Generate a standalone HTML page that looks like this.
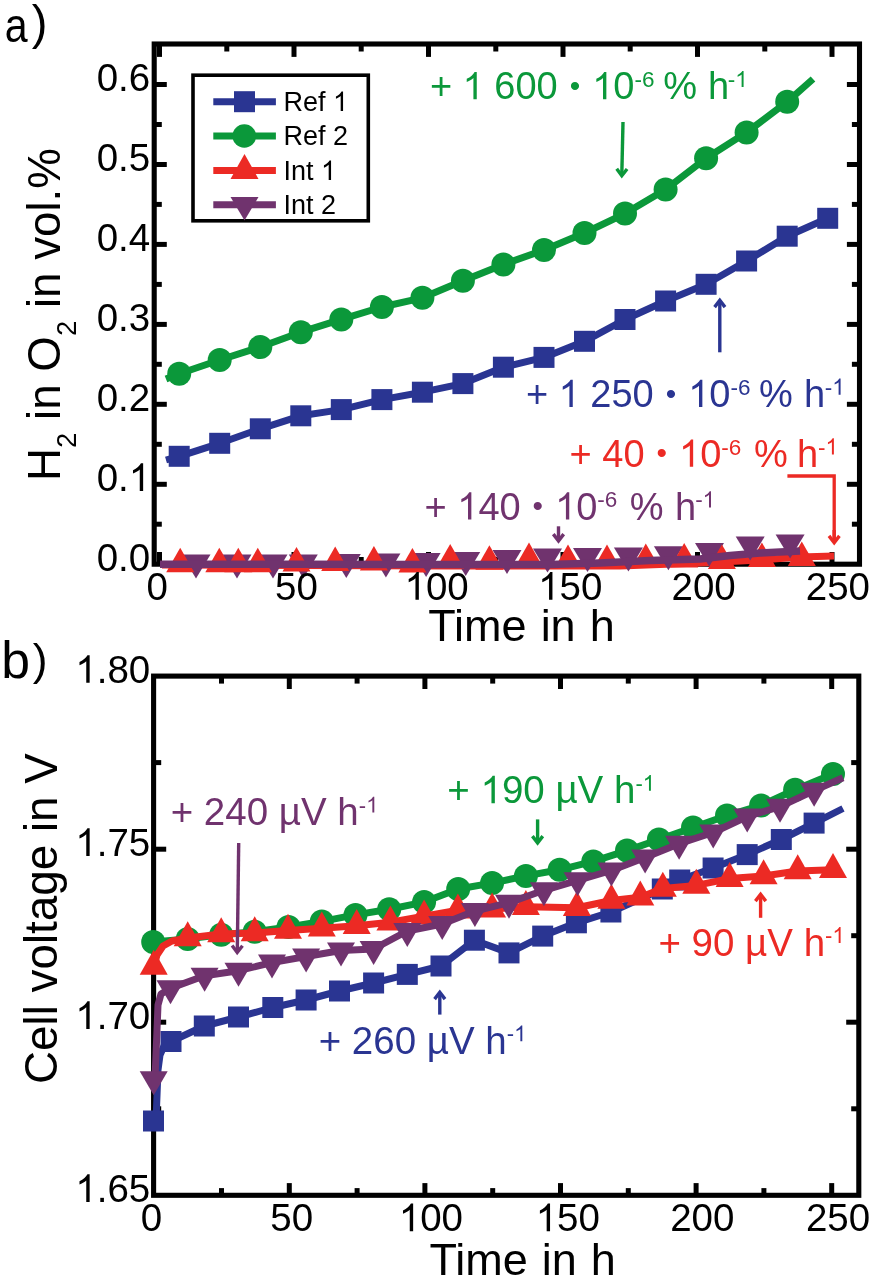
<!DOCTYPE html>
<html><head><meta charset="utf-8"><style>html,body{margin:0;padding:0;background:#fff;width:872px;height:1280px;overflow:hidden}svg{display:block;filter:blur(0.6px)}</style></head><body>
<svg width="872" height="1280" viewBox="0 0 872 1280" font-family='"Liberation Sans", sans-serif'>
<rect width="872" height="1280" fill="#fff"/>
<rect x="154.2" y="44" width="705.3" height="520.2" fill="none" stroke="#000" stroke-width="5.1"/>
<line x1="159.5" y1="564.2" x2="159.5" y2="552" stroke="#000" stroke-width="5.0" stroke-linecap="butt"/>
<line x1="159.5" y1="44" x2="159.5" y2="56.9" stroke="#000" stroke-width="5.0" stroke-linecap="butt"/>
<line x1="226.8" y1="564.2" x2="226.8" y2="557" stroke="#000" stroke-width="5.0" stroke-linecap="butt"/>
<line x1="226.8" y1="44" x2="226.8" y2="51.5" stroke="#000" stroke-width="5.0" stroke-linecap="butt"/>
<line x1="294" y1="564.2" x2="294" y2="552" stroke="#000" stroke-width="5.0" stroke-linecap="butt"/>
<line x1="294" y1="44" x2="294" y2="56.9" stroke="#000" stroke-width="5.0" stroke-linecap="butt"/>
<line x1="361.2" y1="564.2" x2="361.2" y2="557" stroke="#000" stroke-width="5.0" stroke-linecap="butt"/>
<line x1="361.2" y1="44" x2="361.2" y2="51.5" stroke="#000" stroke-width="5.0" stroke-linecap="butt"/>
<line x1="428.5" y1="564.2" x2="428.5" y2="552" stroke="#000" stroke-width="5.0" stroke-linecap="butt"/>
<line x1="428.5" y1="44" x2="428.5" y2="56.9" stroke="#000" stroke-width="5.0" stroke-linecap="butt"/>
<line x1="495.8" y1="564.2" x2="495.8" y2="557" stroke="#000" stroke-width="5.0" stroke-linecap="butt"/>
<line x1="495.8" y1="44" x2="495.8" y2="51.5" stroke="#000" stroke-width="5.0" stroke-linecap="butt"/>
<line x1="563" y1="564.2" x2="563" y2="552" stroke="#000" stroke-width="5.0" stroke-linecap="butt"/>
<line x1="563" y1="44" x2="563" y2="56.9" stroke="#000" stroke-width="5.0" stroke-linecap="butt"/>
<line x1="630.2" y1="564.2" x2="630.2" y2="557" stroke="#000" stroke-width="5.0" stroke-linecap="butt"/>
<line x1="630.2" y1="44" x2="630.2" y2="51.5" stroke="#000" stroke-width="5.0" stroke-linecap="butt"/>
<line x1="697.5" y1="564.2" x2="697.5" y2="552" stroke="#000" stroke-width="5.0" stroke-linecap="butt"/>
<line x1="697.5" y1="44" x2="697.5" y2="56.9" stroke="#000" stroke-width="5.0" stroke-linecap="butt"/>
<line x1="764.8" y1="564.2" x2="764.8" y2="557" stroke="#000" stroke-width="5.0" stroke-linecap="butt"/>
<line x1="764.8" y1="44" x2="764.8" y2="51.5" stroke="#000" stroke-width="5.0" stroke-linecap="butt"/>
<line x1="832" y1="564.2" x2="832" y2="552" stroke="#000" stroke-width="5.0" stroke-linecap="butt"/>
<line x1="832" y1="44" x2="832" y2="56.9" stroke="#000" stroke-width="5.0" stroke-linecap="butt"/>
<line x1="154.2" y1="524.2" x2="161.8" y2="524.2" stroke="#000" stroke-width="5.0" stroke-linecap="butt"/>
<line x1="859.5" y1="524.2" x2="851.9" y2="524.2" stroke="#000" stroke-width="5.0" stroke-linecap="butt"/>
<line x1="154.2" y1="484.3" x2="166.8" y2="484.3" stroke="#000" stroke-width="5.0" stroke-linecap="butt"/>
<line x1="859.5" y1="484.3" x2="846.9" y2="484.3" stroke="#000" stroke-width="5.0" stroke-linecap="butt"/>
<line x1="154.2" y1="444.3" x2="161.8" y2="444.3" stroke="#000" stroke-width="5.0" stroke-linecap="butt"/>
<line x1="859.5" y1="444.3" x2="851.9" y2="444.3" stroke="#000" stroke-width="5.0" stroke-linecap="butt"/>
<line x1="154.2" y1="404.3" x2="166.8" y2="404.3" stroke="#000" stroke-width="5.0" stroke-linecap="butt"/>
<line x1="859.5" y1="404.3" x2="846.9" y2="404.3" stroke="#000" stroke-width="5.0" stroke-linecap="butt"/>
<line x1="154.2" y1="364.3" x2="161.8" y2="364.3" stroke="#000" stroke-width="5.0" stroke-linecap="butt"/>
<line x1="859.5" y1="364.3" x2="851.9" y2="364.3" stroke="#000" stroke-width="5.0" stroke-linecap="butt"/>
<line x1="154.2" y1="324.4" x2="166.8" y2="324.4" stroke="#000" stroke-width="5.0" stroke-linecap="butt"/>
<line x1="859.5" y1="324.4" x2="846.9" y2="324.4" stroke="#000" stroke-width="5.0" stroke-linecap="butt"/>
<line x1="154.2" y1="284.4" x2="161.8" y2="284.4" stroke="#000" stroke-width="5.0" stroke-linecap="butt"/>
<line x1="859.5" y1="284.4" x2="851.9" y2="284.4" stroke="#000" stroke-width="5.0" stroke-linecap="butt"/>
<line x1="154.2" y1="244.4" x2="166.8" y2="244.4" stroke="#000" stroke-width="5.0" stroke-linecap="butt"/>
<line x1="859.5" y1="244.4" x2="846.9" y2="244.4" stroke="#000" stroke-width="5.0" stroke-linecap="butt"/>
<line x1="154.2" y1="204.4" x2="161.8" y2="204.4" stroke="#000" stroke-width="5.0" stroke-linecap="butt"/>
<line x1="859.5" y1="204.4" x2="851.9" y2="204.4" stroke="#000" stroke-width="5.0" stroke-linecap="butt"/>
<line x1="154.2" y1="164.5" x2="166.8" y2="164.5" stroke="#000" stroke-width="5.0" stroke-linecap="butt"/>
<line x1="859.5" y1="164.5" x2="846.9" y2="164.5" stroke="#000" stroke-width="5.0" stroke-linecap="butt"/>
<line x1="154.2" y1="124.5" x2="161.8" y2="124.5" stroke="#000" stroke-width="5.0" stroke-linecap="butt"/>
<line x1="859.5" y1="124.5" x2="851.9" y2="124.5" stroke="#000" stroke-width="5.0" stroke-linecap="butt"/>
<line x1="154.2" y1="84.5" x2="166.8" y2="84.5" stroke="#000" stroke-width="5.0" stroke-linecap="butt"/>
<line x1="859.5" y1="84.5" x2="846.9" y2="84.5" stroke="#000" stroke-width="5.0" stroke-linecap="butt"/>
<polyline points="166,379 179.2,373.7 219.7,360 260.3,347 300.8,332.2 341.3,319.4 381.9,307 422.4,297.8 462.9,280.8 503.4,264.4 544,250 584.5,233 625,213.6 665.6,189.6 706.1,158.3 746.6,132.4 787.2,101.8 813,79" fill="none" stroke="#0b983a" stroke-width="7" stroke-linejoin="round" stroke-linecap="butt"/>
<polyline points="166,460 179.2,456.3 219.7,443.3 260.3,428.8 300.8,415.8 341.3,409.6 381.9,399.6 422.4,392.2 462.9,383.6 503.4,367.2 544,357.4 584.5,341.3 625,319.5 665.6,301 706.1,284.3 746.6,261 787.2,236.2 827.7,218.3 834,216" fill="none" stroke="#2a3592" stroke-width="7" stroke-linejoin="round" stroke-linecap="butt"/>
<circle cx="179.2" cy="373.7" r="12" fill="#0b983a"/>
<circle cx="219.7" cy="360" r="12" fill="#0b983a"/>
<circle cx="260.3" cy="347" r="12" fill="#0b983a"/>
<circle cx="300.8" cy="332.2" r="12" fill="#0b983a"/>
<circle cx="341.3" cy="319.4" r="12" fill="#0b983a"/>
<circle cx="381.9" cy="307" r="12" fill="#0b983a"/>
<circle cx="422.4" cy="297.8" r="12" fill="#0b983a"/>
<circle cx="462.9" cy="280.8" r="12" fill="#0b983a"/>
<circle cx="503.4" cy="264.4" r="12" fill="#0b983a"/>
<circle cx="544" cy="250" r="12" fill="#0b983a"/>
<circle cx="584.5" cy="233" r="12" fill="#0b983a"/>
<circle cx="625" cy="213.6" r="12" fill="#0b983a"/>
<circle cx="665.6" cy="189.6" r="12" fill="#0b983a"/>
<circle cx="706.1" cy="158.3" r="12" fill="#0b983a"/>
<circle cx="746.6" cy="132.4" r="12" fill="#0b983a"/>
<circle cx="787.2" cy="101.8" r="12" fill="#0b983a"/>
<rect x="168.7" y="445.8" width="21" height="21" fill="#2a3592"/>
<rect x="209.2" y="432.8" width="21" height="21" fill="#2a3592"/>
<rect x="249.8" y="418.3" width="21" height="21" fill="#2a3592"/>
<rect x="290.3" y="405.3" width="21" height="21" fill="#2a3592"/>
<rect x="330.8" y="399.1" width="21" height="21" fill="#2a3592"/>
<rect x="371.4" y="389.1" width="21" height="21" fill="#2a3592"/>
<rect x="411.9" y="381.7" width="21" height="21" fill="#2a3592"/>
<rect x="452.4" y="373.1" width="21" height="21" fill="#2a3592"/>
<rect x="492.9" y="356.7" width="21" height="21" fill="#2a3592"/>
<rect x="533.5" y="346.9" width="21" height="21" fill="#2a3592"/>
<rect x="574" y="330.8" width="21" height="21" fill="#2a3592"/>
<rect x="614.5" y="309" width="21" height="21" fill="#2a3592"/>
<rect x="655.1" y="290.5" width="21" height="21" fill="#2a3592"/>
<rect x="695.6" y="273.8" width="21" height="21" fill="#2a3592"/>
<rect x="736.1" y="250.5" width="21" height="21" fill="#2a3592"/>
<rect x="776.7" y="225.7" width="21" height="21" fill="#2a3592"/>
<rect x="817.2" y="207.8" width="21" height="21" fill="#2a3592"/>
<polyline points="162,565 300,565.5 450,566 550,566 620,566 700,563 760,560 800,557 834,556" fill="none" stroke="#ec2a24" stroke-width="7" stroke-linejoin="round" stroke-linecap="butt"/>
<path d="M181.5 554.6L210.5 554.6L196 578.6Z" fill="#70336e"/>
<path d="M222.5 554.6L251.5 554.6L237 578.6Z" fill="#70336e"/>
<path d="M258.5 554.6L287.5 554.6L273 578.6Z" fill="#70336e"/>
<path d="M288.8 554.6L317.8 554.6L303.3 578.6Z" fill="#70336e"/>
<path d="M331.8 554L360.8 554L346.3 578Z" fill="#70336e"/>
<path d="M371.4 553.5L400.4 553.5L385.9 577.5Z" fill="#70336e"/>
<path d="M411.6 553L440.6 553L426.1 577Z" fill="#70336e"/>
<path d="M451.2 552L480.2 552L465.7 576Z" fill="#70336e"/>
<path d="M492.5 550L521.5 550L507 574Z" fill="#70336e"/>
<path d="M533 548.5L562 548.5L547.5 572.5Z" fill="#70336e"/>
<path d="M573 548L602 548L587.5 572Z" fill="#70336e"/>
<path d="M613.9 547.5L642.9 547.5L628.4 571.5Z" fill="#70336e"/>
<path d="M653.9 546.2L682.9 546.2L668.4 570.2Z" fill="#70336e"/>
<path d="M695 543L724 543L709.5 567Z" fill="#70336e"/>
<path d="M735.7 536.6L764.7 536.6L750.2 560.6Z" fill="#70336e"/>
<path d="M775.6 534.6L804.6 534.6L790.1 558.6Z" fill="#70336e"/>
<path d="M180.2 547.7L194.2 572.2L166.2 572.2Z" fill="#ec2a24"/>
<path d="M219.3 547.7L233.3 572.2L205.3 572.2Z" fill="#ec2a24"/>
<path d="M238.3 547.7L252.3 572.2L224.3 572.2Z" fill="#ec2a24"/>
<path d="M257.8 547.7L271.8 572.2L243.8 572.2Z" fill="#ec2a24"/>
<path d="M296.5 547.1L310.5 571.6L282.5 571.6Z" fill="#ec2a24"/>
<path d="M335.2 546.6L349.2 571.1L321.2 571.1Z" fill="#ec2a24"/>
<path d="M373.9 546.1L387.9 570.6L359.9 570.6Z" fill="#ec2a24"/>
<path d="M412.4 548.1L426.4 572.6L398.4 572.6Z" fill="#ec2a24"/>
<path d="M450.2 543.9L464.2 568.4L436.2 568.4Z" fill="#ec2a24"/>
<path d="M489.4 545.2L503.4 569.7L475.4 569.7Z" fill="#ec2a24"/>
<path d="M529 542.5L543 567L515 567Z" fill="#ec2a24"/>
<path d="M568 544.4L582 568.9L554 568.9Z" fill="#ec2a24"/>
<path d="M607 544.5L621 569L593 569Z" fill="#ec2a24"/>
<path d="M645.8 543.4L659.8 567.9L631.8 567.9Z" fill="#ec2a24"/>
<path d="M684.2 542.9L698.2 567.4L670.2 567.4Z" fill="#ec2a24"/>
<path d="M721.9 544.5L735.9 569L707.9 569Z" fill="#ec2a24"/>
<path d="M761.9 542.5L775.9 567L747.9 567Z" fill="#ec2a24"/>
<path d="M801.8 541.5L815.8 566L787.8 566Z" fill="#ec2a24"/>
<polyline points="160,564.3 300,564.3 420,564.5 550,564.6 600,563 650,560.5 700,559 730,555.5 760,553 800,551" fill="none" stroke="#70336e" stroke-width="7.5" stroke-linejoin="round" stroke-linecap="butt"/>
<rect x="193" y="75.2" width="175.3" height="145.6" fill="#fff" stroke="#000" stroke-width="3.6"/>
<line x1="213.3" y1="101.7" x2="275.9" y2="101.7" stroke="#2a3592" stroke-width="7" stroke-linecap="butt"/>
<rect x="234" y="91.2" width="21" height="21" fill="#2a3592"/>
<text fill="#000" ><tspan x="283.5" y="111" font-size="27">Ref  </tspan></text>
<path transform="translate(333,111) scale(0.01318,-0.01318)" d="M763 0H583V1147Q518 1085 412.5 1023Q307 961 223 930V1104Q374 1175 487 1276Q600 1377 647 1472H763Z" fill="#000"/>
<line x1="213.3" y1="136" x2="275.9" y2="136" stroke="#0b983a" stroke-width="7" stroke-linecap="butt"/>
<circle cx="244.3" cy="136" r="11.8" fill="#0b983a"/>
<text fill="#000" ><tspan x="283.5" y="145.3" font-size="27">Ref 2</tspan></text>
<line x1="213.3" y1="170.6" x2="275.9" y2="170.6" stroke="#ec2a24" stroke-width="7" stroke-linecap="butt"/>
<path d="M244.5 153.9L258.5 178.9L230.5 178.9Z" fill="#ec2a24"/>
<text fill="#000" ><tspan x="283.5" y="179.9" font-size="27">Int  </tspan></text>
<path transform="translate(321,179.9) scale(0.01318,-0.01318)" d="M763 0H583V1147Q518 1085 412.5 1023Q307 961 223 930V1104Q374 1175 487 1276Q600 1377 647 1472H763Z" fill="#000"/>
<line x1="213.3" y1="204.8" x2="275.9" y2="204.8" stroke="#70336e" stroke-width="7" stroke-linecap="butt"/>
<path d="M230.5 197L258.5 197L244.5 220.5Z" fill="#70336e"/>
<text fill="#000" ><tspan x="283.5" y="214.1" font-size="27">Int 2</tspan></text>
<text fill="#000" ><tspan x="96.7" y="570.9" font-size="38.5">0.0</tspan></text>
<text fill="#000" ><tspan x="96.7" y="491" font-size="38.5">0. </tspan></text>
<path transform="translate(128.8,491) scale(0.01880,-0.01880)" d="M763 0H583V1147Q518 1085 412.5 1023Q307 961 223 930V1104Q374 1175 487 1276Q600 1377 647 1472H763Z" fill="#000"/>
<text fill="#000" ><tspan x="96.7" y="411" font-size="38.5">0.2</tspan></text>
<text fill="#000" ><tspan x="96.7" y="331.1" font-size="38.5">0.3</tspan></text>
<text fill="#000" ><tspan x="96.7" y="251.1" font-size="38.5">0.4</tspan></text>
<text fill="#000" ><tspan x="96.7" y="171.2" font-size="38.5">0.5</tspan></text>
<text fill="#000" ><tspan x="96.7" y="91.2" font-size="38.5">0.6</tspan></text>
<text fill="#000" ><tspan x="146.5" y="599.7" font-size="38.5">0</tspan></text>
<text fill="#000" ><tspan x="275.1" y="599.7" font-size="38.5">50</tspan></text>
<text fill="#000" ><tspan x="404.5" y="599.7" font-size="38.5"> 00</tspan></text>
<path transform="translate(404.5,599.7) scale(0.01880,-0.01880)" d="M763 0H583V1147Q518 1085 412.5 1023Q307 961 223 930V1104Q374 1175 487 1276Q600 1377 647 1472H763Z" fill="#000"/>
<text fill="#000" ><tspan x="538.1" y="599.7" font-size="38.5"> 50</tspan></text>
<path transform="translate(538.1,599.7) scale(0.01880,-0.01880)" d="M763 0H583V1147Q518 1085 412.5 1023Q307 961 223 930V1104Q374 1175 487 1276Q600 1377 647 1472H763Z" fill="#000"/>
<text fill="#000" ><tspan x="671.5" y="599.7" font-size="38.5">200</tspan></text>
<text fill="#000" ><tspan x="805.8" y="599.7" font-size="38.5">250</tspan></text>
<text x="521.5" y="640.5" font-size="45" fill="#000" text-anchor="middle" word-spacing="1.5">Time in h</text>
<text transform="translate(60,314.5) rotate(-90)" font-size="45.7" text-anchor="middle">H<tspan font-size="27.5" dy="15.7">2</tspan><tspan dy="-15.7"> in O</tspan><tspan font-size="27.5" dy="15.7">2</tspan><tspan dy="-15.7"> in vol.%</tspan></text>
<text transform="translate(4.67,42.1) scale(0.84,1)" font-size="49">a</text>
<text x="31.7" y="38.9" font-size="47.2" fill="#000" text-anchor="start" >)</text>
<text fill="#0b983a" ><tspan x="429.9" y="99.3" font-size="38">+   600 </tspan><tspan font-size="30" dx="1.4" dy="-3.4">•</tspan><tspan font-size="38" dx="1.4" dy="3.4">  0</tspan><tspan font-size="22.5" dx="0" dy="-12.2">-6 </tspan><tspan font-size="38" dx="2.5" dy="12.2">% </tspan><tspan font-size="38" dx="0.5" dy="0">h</tspan><tspan font-size="22.5" dx="-1.5" dy="-12.2">- </tspan></text>
<path transform="translate(462.6,99.3) scale(0.01855,-0.01855)" d="M763 0H583V1147Q518 1085 412.5 1023Q307 961 223 930V1104Q374 1175 487 1276Q600 1377 647 1472H763Z" fill="#0b983a"/>
<path transform="translate(592.2,99.3) scale(0.01855,-0.01855)" d="M763 0H583V1147Q518 1085 412.5 1023Q307 961 223 930V1104Q374 1175 487 1276Q600 1377 647 1472H763Z" fill="#0b983a"/>
<path transform="translate(735.2,87.1) scale(0.01099,-0.01099)" d="M763 0H583V1147Q518 1085 412.5 1023Q307 961 223 930V1104Q374 1175 487 1276Q600 1377 647 1472H763Z" fill="#0b983a"/>
<line x1="623" y1="122" x2="621.8" y2="174.7" stroke="#0b983a" stroke-width="3.4" stroke-linecap="butt"/>
<path d="M627.1 169L621.8 175.7L616.7 168.8" fill="none" stroke="#0b983a" stroke-width="3.4" stroke-linejoin="miter" stroke-miterlimit="10"/>
<text fill="#2a3592" ><tspan x="525.9" y="407" font-size="38">+   250 </tspan><tspan font-size="30" dx="1.4" dy="-3.4">•</tspan><tspan font-size="38" dx="1.4" dy="3.4">  0</tspan><tspan font-size="22.5" dx="0" dy="-12.2">-6 </tspan><tspan font-size="38" dx="2.2" dy="12.2">% </tspan><tspan font-size="38" dx="0.8" dy="0">h</tspan><tspan font-size="22.5" dx="-0.5" dy="-12.2">- </tspan></text>
<path transform="translate(558.6,407) scale(0.01855,-0.01855)" d="M763 0H583V1147Q518 1085 412.5 1023Q307 961 223 930V1104Q374 1175 487 1276Q600 1377 647 1472H763Z" fill="#2a3592"/>
<path transform="translate(688.2,407) scale(0.01855,-0.01855)" d="M763 0H583V1147Q518 1085 412.5 1023Q307 961 223 930V1104Q374 1175 487 1276Q600 1377 647 1472H763Z" fill="#2a3592"/>
<path transform="translate(832.2,394.8) scale(0.01099,-0.01099)" d="M763 0H583V1147Q518 1085 412.5 1023Q307 961 223 930V1104Q374 1175 487 1276Q600 1377 647 1472H763Z" fill="#2a3592"/>
<line x1="719.8" y1="352.3" x2="719.8" y2="301.3" stroke="#2a3592" stroke-width="3.4" stroke-linecap="butt"/>
<path d="M714.6 307.1L719.8 300.3L725 307.1" fill="none" stroke="#2a3592" stroke-width="3.4" stroke-linejoin="miter" stroke-miterlimit="10"/>
<text fill="#ec2a24" ><tspan x="569.6" y="466.7" font-size="38">+ 40 </tspan><tspan font-size="30" dx="1.4" dy="-3.4">•</tspan><tspan font-size="38" dx="1.4" dy="3.4">  0</tspan><tspan font-size="22.5" dx="0" dy="-12.2">-6 </tspan><tspan font-size="38" dx="6.5" dy="12.2">% </tspan><tspan font-size="38" dx="-1.5" dy="0">h</tspan><tspan font-size="22.5" dx="0" dy="-12.2">- </tspan></text>
<path transform="translate(679,466.7) scale(0.01855,-0.01855)" d="M763 0H583V1147Q518 1085 412.5 1023Q307 961 223 930V1104Q374 1175 487 1276Q600 1377 647 1472H763Z" fill="#ec2a24"/>
<path transform="translate(825.5,454.5) scale(0.01099,-0.01099)" d="M763 0H583V1147Q518 1085 412.5 1023Q307 961 223 930V1104Q374 1175 487 1276Q600 1377 647 1472H763Z" fill="#ec2a24"/>
<polyline points="787.4,476 834.2,476 834.2,540" fill="none" stroke="#ec2a24" stroke-width="3.3"/>
<line x1="834.2" y1="530" x2="834.2" y2="541.7" stroke="#ec2a24" stroke-width="3.4" stroke-linecap="butt"/>
<path d="M839.4 535.9L834.2 542.7L829 535.9" fill="none" stroke="#ec2a24" stroke-width="3.4" stroke-linejoin="miter" stroke-miterlimit="10"/>
<text fill="#70336e" ><tspan x="424.5" y="519.6" font-size="38">+  40 </tspan><tspan font-size="30" dx="1.4" dy="-3.4">•</tspan><tspan font-size="38" dx="1.4" dy="3.4">  0</tspan><tspan font-size="22.5" dx="0" dy="-12.2">-6 </tspan><tspan font-size="38" dx="6" dy="12.2">% </tspan><tspan font-size="38" dx="1" dy="0">h</tspan><tspan font-size="22.5" dx="-1" dy="-12.2">- </tspan></text>
<path transform="translate(457.2,519.6) scale(0.01855,-0.01855)" d="M763 0H583V1147Q518 1085 412.5 1023Q307 961 223 930V1104Q374 1175 487 1276Q600 1377 647 1472H763Z" fill="#70336e"/>
<path transform="translate(555.1,519.6) scale(0.01855,-0.01855)" d="M763 0H583V1147Q518 1085 412.5 1023Q307 961 223 930V1104Q374 1175 487 1276Q600 1377 647 1472H763Z" fill="#70336e"/>
<path transform="translate(702.6,507.4) scale(0.01099,-0.01099)" d="M763 0H583V1147Q518 1085 412.5 1023Q307 961 223 930V1104Q374 1175 487 1276Q600 1377 647 1472H763Z" fill="#70336e"/>
<line x1="558.5" y1="526.3" x2="558.5" y2="539.9" stroke="#70336e" stroke-width="3.4" stroke-linecap="butt"/>
<path d="M563.7 534.1L558.5 540.9L553.3 534.1" fill="none" stroke="#70336e" stroke-width="3.4" stroke-linejoin="miter" stroke-miterlimit="10"/>
<rect x="153.6" y="676.1" width="705.2" height="519.2" fill="none" stroke="#000" stroke-width="5.1"/>
<line x1="221.5" y1="1195.3" x2="221.5" y2="1188.1" stroke="#000" stroke-width="5.0" stroke-linecap="butt"/>
<line x1="221.5" y1="676.1" x2="221.5" y2="683.6" stroke="#000" stroke-width="5.0" stroke-linecap="butt"/>
<line x1="289.3" y1="1195.3" x2="289.3" y2="1183.1" stroke="#000" stroke-width="5.0" stroke-linecap="butt"/>
<line x1="289.3" y1="676.1" x2="289.3" y2="689" stroke="#000" stroke-width="5.0" stroke-linecap="butt"/>
<line x1="357.1" y1="1195.3" x2="357.1" y2="1188.1" stroke="#000" stroke-width="5.0" stroke-linecap="butt"/>
<line x1="357.1" y1="676.1" x2="357.1" y2="683.6" stroke="#000" stroke-width="5.0" stroke-linecap="butt"/>
<line x1="424.9" y1="1195.3" x2="424.9" y2="1183.1" stroke="#000" stroke-width="5.0" stroke-linecap="butt"/>
<line x1="424.9" y1="676.1" x2="424.9" y2="689" stroke="#000" stroke-width="5.0" stroke-linecap="butt"/>
<line x1="492.7" y1="1195.3" x2="492.7" y2="1188.1" stroke="#000" stroke-width="5.0" stroke-linecap="butt"/>
<line x1="492.7" y1="676.1" x2="492.7" y2="683.6" stroke="#000" stroke-width="5.0" stroke-linecap="butt"/>
<line x1="560.5" y1="1195.3" x2="560.5" y2="1183.1" stroke="#000" stroke-width="5.0" stroke-linecap="butt"/>
<line x1="560.5" y1="676.1" x2="560.5" y2="689" stroke="#000" stroke-width="5.0" stroke-linecap="butt"/>
<line x1="628.3" y1="1195.3" x2="628.3" y2="1188.1" stroke="#000" stroke-width="5.0" stroke-linecap="butt"/>
<line x1="628.3" y1="676.1" x2="628.3" y2="683.6" stroke="#000" stroke-width="5.0" stroke-linecap="butt"/>
<line x1="696.1" y1="1195.3" x2="696.1" y2="1183.1" stroke="#000" stroke-width="5.0" stroke-linecap="butt"/>
<line x1="696.1" y1="676.1" x2="696.1" y2="689" stroke="#000" stroke-width="5.0" stroke-linecap="butt"/>
<line x1="763.9" y1="1195.3" x2="763.9" y2="1188.1" stroke="#000" stroke-width="5.0" stroke-linecap="butt"/>
<line x1="763.9" y1="676.1" x2="763.9" y2="683.6" stroke="#000" stroke-width="5.0" stroke-linecap="butt"/>
<line x1="831.7" y1="1195.3" x2="831.7" y2="1183.1" stroke="#000" stroke-width="5.0" stroke-linecap="butt"/>
<line x1="831.7" y1="676.1" x2="831.7" y2="689" stroke="#000" stroke-width="5.0" stroke-linecap="butt"/>
<line x1="153.6" y1="1108.8" x2="161.2" y2="1108.8" stroke="#000" stroke-width="5.0" stroke-linecap="butt"/>
<line x1="858.8" y1="1108.8" x2="851.2" y2="1108.8" stroke="#000" stroke-width="5.0" stroke-linecap="butt"/>
<line x1="153.6" y1="1022.2" x2="166.2" y2="1022.2" stroke="#000" stroke-width="5.0" stroke-linecap="butt"/>
<line x1="858.8" y1="1022.2" x2="846.2" y2="1022.2" stroke="#000" stroke-width="5.0" stroke-linecap="butt"/>
<line x1="153.6" y1="935.7" x2="161.2" y2="935.7" stroke="#000" stroke-width="5.0" stroke-linecap="butt"/>
<line x1="858.8" y1="935.7" x2="851.2" y2="935.7" stroke="#000" stroke-width="5.0" stroke-linecap="butt"/>
<line x1="153.6" y1="849.2" x2="166.2" y2="849.2" stroke="#000" stroke-width="5.0" stroke-linecap="butt"/>
<line x1="858.8" y1="849.2" x2="846.2" y2="849.2" stroke="#000" stroke-width="5.0" stroke-linecap="butt"/>
<line x1="153.6" y1="762.6" x2="161.2" y2="762.6" stroke="#000" stroke-width="5.0" stroke-linecap="butt"/>
<line x1="858.8" y1="762.6" x2="851.2" y2="762.6" stroke="#000" stroke-width="5.0" stroke-linecap="butt"/>
<polyline points="156,1121 158,1070 160,1055 164,1046 171,1041.5 204.3,1026 238.5,1017 272.8,1007.5 306.1,1000 339.5,991 373.6,983 407.3,974.4 441,966 474.4,940.2 509,952.9 542.7,936.1 576.4,922.8 610.9,912 662.3,889 679.7,880 713.1,868 747.2,854.6 781.3,839.5 814.1,823.1 843,808.5" fill="none" stroke="#2a3592" stroke-width="7" stroke-linejoin="round" stroke-linecap="butt"/>
<rect x="143" y="1110.5" width="21" height="21" fill="#2a3592"/>
<rect x="160.5" y="1031" width="21" height="21" fill="#2a3592"/>
<rect x="193.8" y="1015.5" width="21" height="21" fill="#2a3592"/>
<rect x="228" y="1006.5" width="21" height="21" fill="#2a3592"/>
<rect x="262.3" y="997" width="21" height="21" fill="#2a3592"/>
<rect x="295.6" y="989.5" width="21" height="21" fill="#2a3592"/>
<rect x="329" y="980.5" width="21" height="21" fill="#2a3592"/>
<rect x="363.1" y="972.5" width="21" height="21" fill="#2a3592"/>
<rect x="396.8" y="963.9" width="21" height="21" fill="#2a3592"/>
<rect x="430.5" y="955.5" width="21" height="21" fill="#2a3592"/>
<rect x="463.9" y="929.7" width="21" height="21" fill="#2a3592"/>
<rect x="498.5" y="942.4" width="21" height="21" fill="#2a3592"/>
<rect x="532.2" y="925.6" width="21" height="21" fill="#2a3592"/>
<rect x="565.9" y="912.3" width="21" height="21" fill="#2a3592"/>
<rect x="600.4" y="901.5" width="21" height="21" fill="#2a3592"/>
<rect x="651.8" y="878.5" width="21" height="21" fill="#2a3592"/>
<rect x="669.2" y="869.5" width="21" height="21" fill="#2a3592"/>
<rect x="702.6" y="857.5" width="21" height="21" fill="#2a3592"/>
<rect x="736.7" y="844.1" width="21" height="21" fill="#2a3592"/>
<rect x="770.8" y="829" width="21" height="21" fill="#2a3592"/>
<rect x="803.6" y="812.6" width="21" height="21" fill="#2a3592"/>
<polyline points="153.2,941.9 187.7,938.9 221.2,934.8 254.7,931.8 288.5,926.9 321.8,921.4 355.5,914.9 389.2,909.3 424.1,902.1 458.2,889 492.1,883.1 525.9,875.9 559.6,869.8 593.3,861.4 627,850.6 658.9,839.5 693,827.6 727,815.5 761.1,805.4 795.1,789.8 833,773.9 840,770.5" fill="none" stroke="#0b983a" stroke-width="7" stroke-linejoin="round" stroke-linecap="butt"/>
<circle cx="153.2" cy="941.9" r="12" fill="#0b983a"/>
<circle cx="187.7" cy="938.9" r="12" fill="#0b983a"/>
<circle cx="221.2" cy="934.8" r="12" fill="#0b983a"/>
<circle cx="254.7" cy="931.8" r="12" fill="#0b983a"/>
<circle cx="288.5" cy="926.9" r="12" fill="#0b983a"/>
<circle cx="321.8" cy="921.4" r="12" fill="#0b983a"/>
<circle cx="355.5" cy="914.9" r="12" fill="#0b983a"/>
<circle cx="389.2" cy="909.3" r="12" fill="#0b983a"/>
<circle cx="424.1" cy="902.1" r="12" fill="#0b983a"/>
<circle cx="458.2" cy="889" r="12" fill="#0b983a"/>
<circle cx="492.1" cy="883.1" r="12" fill="#0b983a"/>
<circle cx="525.9" cy="875.9" r="12" fill="#0b983a"/>
<circle cx="559.6" cy="869.8" r="12" fill="#0b983a"/>
<circle cx="593.3" cy="861.4" r="12" fill="#0b983a"/>
<circle cx="627" cy="850.6" r="12" fill="#0b983a"/>
<circle cx="658.9" cy="839.5" r="12" fill="#0b983a"/>
<circle cx="693" cy="827.6" r="12" fill="#0b983a"/>
<circle cx="727" cy="815.5" r="12" fill="#0b983a"/>
<circle cx="761.1" cy="805.4" r="12" fill="#0b983a"/>
<circle cx="795.1" cy="789.8" r="12" fill="#0b983a"/>
<circle cx="833" cy="773.9" r="12" fill="#0b983a"/>
<polyline points="153.7,968 157,955 163,946 172,941 187.7,938 221.2,934 254.7,932.9 288,930.5 321.8,928.2 356.7,925.8 390.4,922.2 424.1,916.1 457.9,910.2 492.1,909.1 525.9,906.7 576.9,907.7 611.4,900.5 640.3,897.3 662.8,888.4 696.3,885.4 729.6,878.6 763.6,876 797.7,871 833,869.7 840,869" fill="none" stroke="#ec2a24" stroke-width="7" stroke-linejoin="round" stroke-linecap="butt"/>
<path d="M153.7 949.7L167.7 974.7L139.7 974.7Z" fill="#ec2a24"/>
<path d="M187.7 921.3L201.7 946.3L173.7 946.3Z" fill="#ec2a24"/>
<path d="M221.2 917.3L235.2 942.3L207.2 942.3Z" fill="#ec2a24"/>
<path d="M254.7 916.2L268.7 941.2L240.7 941.2Z" fill="#ec2a24"/>
<path d="M288 913.8L302 938.8L274 938.8Z" fill="#ec2a24"/>
<path d="M321.8 911.5L335.8 936.5L307.8 936.5Z" fill="#ec2a24"/>
<path d="M356.7 909.1L370.7 934.1L342.7 934.1Z" fill="#ec2a24"/>
<path d="M390.4 905.5L404.4 930.5L376.4 930.5Z" fill="#ec2a24"/>
<path d="M424.1 899.4L438.1 924.4L410.1 924.4Z" fill="#ec2a24"/>
<path d="M457.9 893.5L471.9 918.5L443.9 918.5Z" fill="#ec2a24"/>
<path d="M492.1 892.4L506.1 917.4L478.1 917.4Z" fill="#ec2a24"/>
<path d="M525.9 890L539.9 915L511.9 915Z" fill="#ec2a24"/>
<path d="M576.9 891L590.9 916L562.9 916Z" fill="#ec2a24"/>
<path d="M611.4 883.8L625.4 908.8L597.4 908.8Z" fill="#ec2a24"/>
<path d="M640.3 880.6L654.3 905.6L626.3 905.6Z" fill="#ec2a24"/>
<path d="M662.8 871.7L676.8 896.7L648.8 896.7Z" fill="#ec2a24"/>
<path d="M696.3 868.7L710.3 893.7L682.3 893.7Z" fill="#ec2a24"/>
<path d="M729.6 861.9L743.6 886.9L715.6 886.9Z" fill="#ec2a24"/>
<path d="M763.6 859.3L777.6 884.3L749.6 884.3Z" fill="#ec2a24"/>
<path d="M797.7 854.3L811.7 879.3L783.7 879.3Z" fill="#ec2a24"/>
<path d="M833 853L847 878L819 878Z" fill="#ec2a24"/>
<polyline points="155,1079 157,1030 158,1005 161,994 170.5,988.3 204.6,975.8 238.5,970.7 272,962.6 306.1,956.5 341,950.5 373.6,949 407.3,931 442.2,924 474.9,911 509,902.7 543.9,890.3 577.6,880.3 611.4,870.5 645.1,857.4 679.1,843.7 713.2,832.5 747.2,816.5 780,806.7 814.1,790.7 843,777.7" fill="none" stroke="#70336e" stroke-width="7" stroke-linejoin="round" stroke-linecap="butt"/>
<path d="M139.7 1071.3L167.7 1071.3L153.7 1095.3Z" fill="#70336e"/>
<path d="M156.5 980.3L184.5 980.3L170.5 1004.3Z" fill="#70336e"/>
<path d="M190.6 967.8L218.6 967.8L204.6 991.8Z" fill="#70336e"/>
<path d="M224.5 962.7L252.5 962.7L238.5 986.7Z" fill="#70336e"/>
<path d="M258 954.6L286 954.6L272 978.6Z" fill="#70336e"/>
<path d="M292.1 948.5L320.1 948.5L306.1 972.5Z" fill="#70336e"/>
<path d="M327 942.5L355 942.5L341 966.5Z" fill="#70336e"/>
<path d="M359.6 941L387.6 941L373.6 965Z" fill="#70336e"/>
<path d="M393.3 923L421.3 923L407.3 947Z" fill="#70336e"/>
<path d="M428.2 916L456.2 916L442.2 940Z" fill="#70336e"/>
<path d="M460.9 903L488.9 903L474.9 927Z" fill="#70336e"/>
<path d="M495 894.7L523 894.7L509 918.7Z" fill="#70336e"/>
<path d="M529.9 882.3L557.9 882.3L543.9 906.3Z" fill="#70336e"/>
<path d="M563.6 872.3L591.6 872.3L577.6 896.3Z" fill="#70336e"/>
<path d="M597.4 862.5L625.4 862.5L611.4 886.5Z" fill="#70336e"/>
<path d="M631.1 849.4L659.1 849.4L645.1 873.4Z" fill="#70336e"/>
<path d="M665.1 835.7L693.1 835.7L679.1 859.7Z" fill="#70336e"/>
<path d="M699.2 824.5L727.2 824.5L713.2 848.5Z" fill="#70336e"/>
<path d="M733.2 808.5L761.2 808.5L747.2 832.5Z" fill="#70336e"/>
<path d="M766 798.7L794 798.7L780 822.7Z" fill="#70336e"/>
<path d="M800.1 782.7L828.1 782.7L814.1 806.7Z" fill="#70336e"/>
<text fill="#000" ><tspan x="75.3" y="1202" font-size="38.5"> .65</tspan></text>
<path transform="translate(75.3,1202) scale(0.01880,-0.01880)" d="M763 0H583V1147Q518 1085 412.5 1023Q307 961 223 930V1104Q374 1175 487 1276Q600 1377 647 1472H763Z" fill="#000"/>
<text fill="#000" ><tspan x="75.3" y="1028.9" font-size="38.5"> .70</tspan></text>
<path transform="translate(75.3,1028.9) scale(0.01880,-0.01880)" d="M763 0H583V1147Q518 1085 412.5 1023Q307 961 223 930V1104Q374 1175 487 1276Q600 1377 647 1472H763Z" fill="#000"/>
<text fill="#000" ><tspan x="75.3" y="855.9" font-size="38.5"> .75</tspan></text>
<path transform="translate(75.3,855.9) scale(0.01880,-0.01880)" d="M763 0H583V1147Q518 1085 412.5 1023Q307 961 223 930V1104Q374 1175 487 1276Q600 1377 647 1472H763Z" fill="#000"/>
<text fill="#000" ><tspan x="75.3" y="682.8" font-size="38.5"> .80</tspan></text>
<path transform="translate(75.3,682.8) scale(0.01880,-0.01880)" d="M763 0H583V1147Q518 1085 412.5 1023Q307 961 223 930V1104Q374 1175 487 1276Q600 1377 647 1472H763Z" fill="#000"/>
<text fill="#000" ><tspan x="140.7" y="1231.2" font-size="38.5">0</tspan></text>
<text fill="#000" ><tspan x="270.3" y="1231.2" font-size="38.5">50</tspan></text>
<text fill="#000" ><tspan x="398.8" y="1231.2" font-size="38.5"> 00</tspan></text>
<path transform="translate(398.8,1231.2) scale(0.01880,-0.01880)" d="M763 0H583V1147Q518 1085 412.5 1023Q307 961 223 930V1104Q374 1175 487 1276Q600 1377 647 1472H763Z" fill="#000"/>
<text fill="#000" ><tspan x="535.7" y="1231.2" font-size="38.5"> 50</tspan></text>
<path transform="translate(535.7,1231.2) scale(0.01880,-0.01880)" d="M763 0H583V1147Q518 1085 412.5 1023Q307 961 223 930V1104Q374 1175 487 1276Q600 1377 647 1472H763Z" fill="#000"/>
<text fill="#000" ><tspan x="670.2" y="1231.2" font-size="38.5">200</tspan></text>
<text fill="#000" ><tspan x="805.9" y="1231.2" font-size="38.5">250</tspan></text>
<text x="522.7" y="1275.2" font-size="45" fill="#000" text-anchor="middle" word-spacing="1.5">Time in h</text>
<text transform="translate(57.2,918.6) rotate(-90)" font-size="45.8" text-anchor="middle">Cell voltage in V</text>
<text x="1.3" y="677.6" font-size="51.7" fill="#000" text-anchor="start" >b</text>
<text x="32.7" y="674.9" font-size="44.3" fill="#000" text-anchor="start" >)</text>
<text fill="#70336e" ><tspan x="170.7" y="825.2" font-size="38.5">+ 240 µV h</tspan><tspan font-size="22" dx="0" dy="-12.6">- </tspan></text>
<path transform="translate(366.1,812.6) scale(0.01074,-0.01074)" d="M763 0H583V1147Q518 1085 412.5 1023Q307 961 223 930V1104Q374 1175 487 1276Q600 1377 647 1472H763Z" fill="#70336e"/>
<line x1="238.7" y1="843" x2="237.3" y2="951.4" stroke="#70336e" stroke-width="3.4" stroke-linecap="butt"/>
<path d="M242.5 945.7L237.2 952.4L232.1 945.5" fill="none" stroke="#70336e" stroke-width="3.4" stroke-linejoin="miter" stroke-miterlimit="10"/>
<text fill="#0b983a" ><tspan x="447.3" y="803.3" font-size="38.5">+  90 µV h</tspan><tspan font-size="22" dx="0" dy="-12.6">- </tspan></text>
<path transform="translate(480.5,803.3) scale(0.01880,-0.01880)" d="M763 0H583V1147Q518 1085 412.5 1023Q307 961 223 930V1104Q374 1175 487 1276Q600 1377 647 1472H763Z" fill="#0b983a"/>
<path transform="translate(642.7,790.7) scale(0.01074,-0.01074)" d="M763 0H583V1147Q518 1085 412.5 1023Q307 961 223 930V1104Q374 1175 487 1276Q600 1377 647 1472H763Z" fill="#0b983a"/>
<line x1="537.6" y1="819.4" x2="537.6" y2="841.9" stroke="#0b983a" stroke-width="3.4" stroke-linecap="butt"/>
<path d="M542.8 836.1L537.6 842.9L532.4 836.1" fill="none" stroke="#0b983a" stroke-width="3.4" stroke-linejoin="miter" stroke-miterlimit="10"/>
<text fill="#ec2a24" ><tspan x="658.4" y="955.5" font-size="38.5">+ 90 µV h</tspan><tspan font-size="22" dx="0" dy="-12.6">- </tspan></text>
<path transform="translate(832.4,942.9) scale(0.01074,-0.01074)" d="M763 0H583V1147Q518 1085 412.5 1023Q307 961 223 930V1104Q374 1175 487 1276Q600 1377 647 1472H763Z" fill="#ec2a24"/>
<line x1="760.6" y1="917.8" x2="760.6" y2="895.3" stroke="#ec2a24" stroke-width="3.4" stroke-linecap="butt"/>
<path d="M755.4 901.1L760.6 894.3L765.8 901.1" fill="none" stroke="#ec2a24" stroke-width="3.4" stroke-linejoin="miter" stroke-miterlimit="10"/>
<text fill="#2a3592" ><tspan x="318.7" y="1053.9" font-size="38.5">+ 260 µV h</tspan><tspan font-size="22" dx="0" dy="-12.6">- </tspan></text>
<path transform="translate(514.1,1041.3) scale(0.01074,-0.01074)" d="M763 0H583V1147Q518 1085 412.5 1023Q307 961 223 930V1104Q374 1175 487 1276Q600 1377 647 1472H763Z" fill="#2a3592"/>
<line x1="439.8" y1="1014.6" x2="439.8" y2="993.3" stroke="#2a3592" stroke-width="3.4" stroke-linecap="butt"/>
<path d="M434.6 999.1L439.8 992.3L445 999.1" fill="none" stroke="#2a3592" stroke-width="3.4" stroke-linejoin="miter" stroke-miterlimit="10"/>
</svg>
</body></html>
